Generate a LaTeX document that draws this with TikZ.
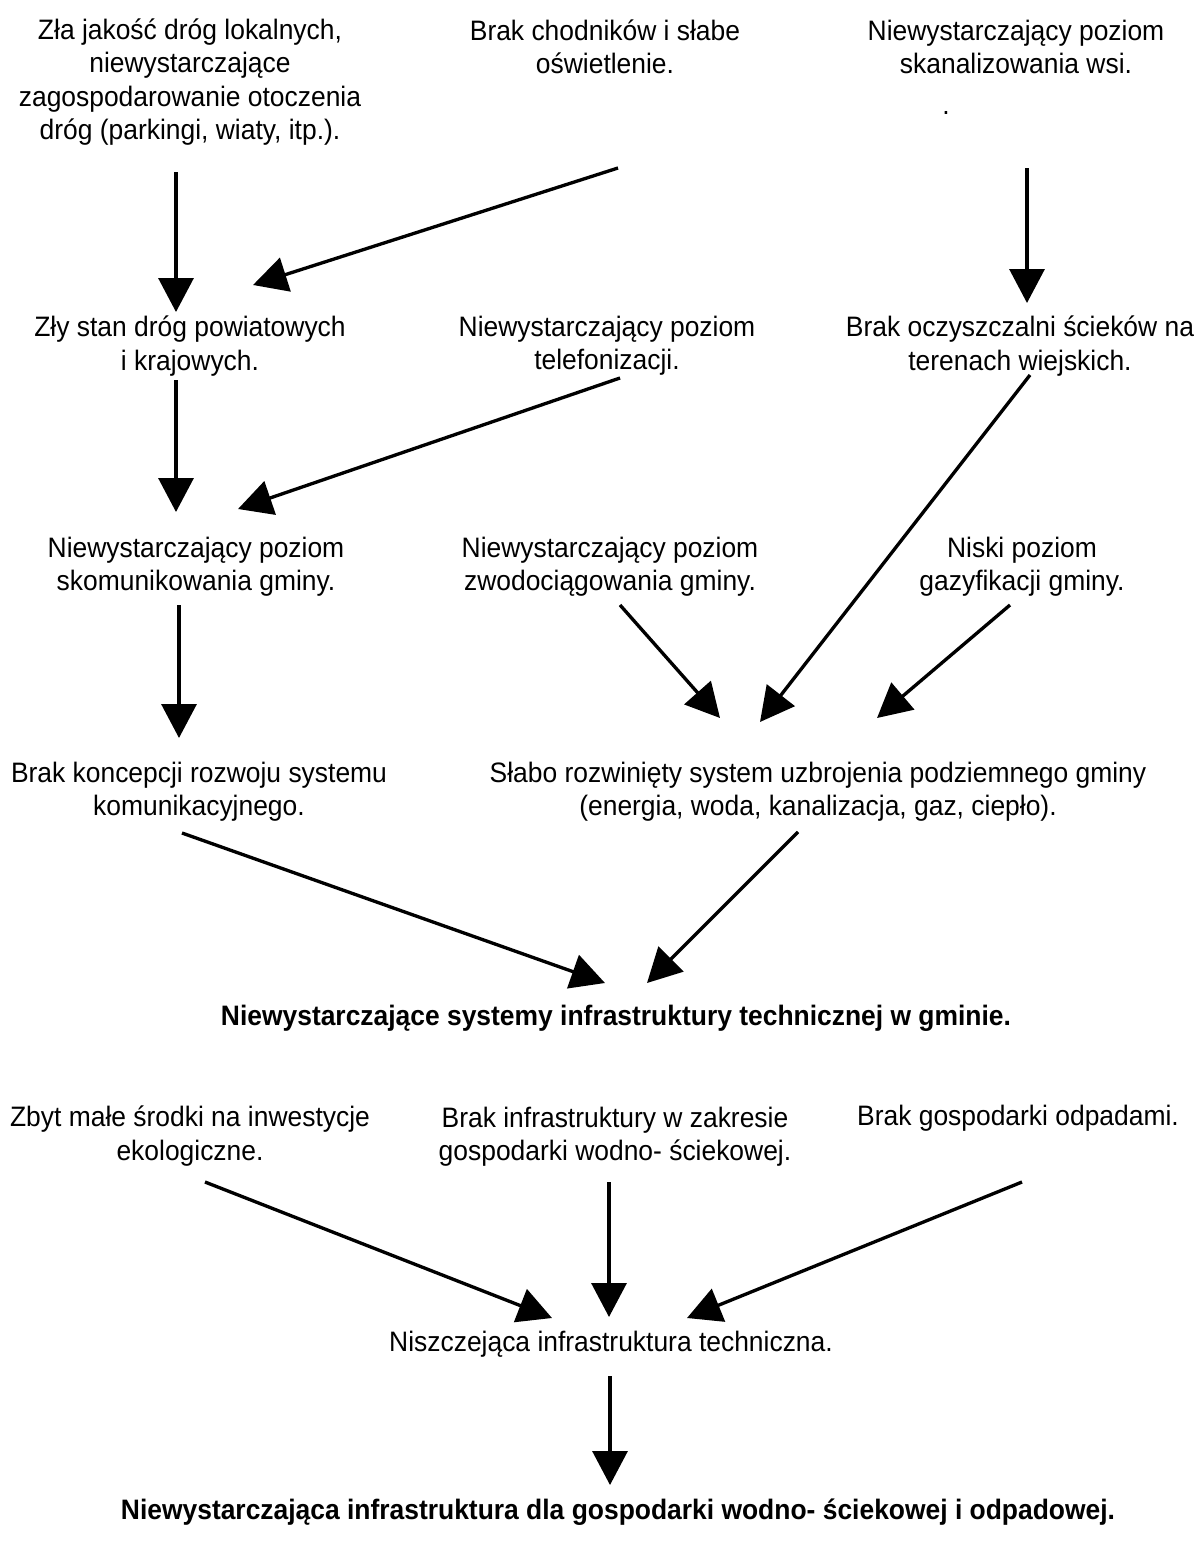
\documentclass[tikz,border=0pt]{standalone}
\usepackage{fontspec}
\setmainfont{Liberation Sans}[FakeStretch=0.94]
\usetikzlibrary{arrows.meta}

\begin{document}
\begin{tikzpicture}[x=0.02cm, y=-0.02cm,
 every node/.style={align=center, inner sep=0pt, font=\fontsize{16}{19}\selectfont},
 heavy/.style={font=\fontsize{16}{19}\selectfont\bfseries},
 arr/.style={-{Triangle[length=6.8mm,width=7mm]}, line width=1.9pt}]

 \useasboundingbox (0,0) rectangle (1197,1548);

 \node (zla) at (190,82) {Zła jakość dróg lokalnych,\\ niewystarczające\\ zagospodarowanie otoczenia\\ dróg (parkingi, wiaty, itp.).};

 \node (chod) at (605,47) {Brak chodników i słabe\\ oświetlenie.};

 \node (kan) at (1016,47) {Niewystarczający poziom\\ skanalizowania wsi.};

 \node (dot) at (946,113) {.};

 \node (zly) at (190,346) {Zły stan dróg powiatowych\\ i krajowych.};

 \node (tel) at (607,346) {Niewystarczający poziom\\ telefonizacji.};

 \node (ocz) at (1020,346) {Brak oczyszczalni ścieków na\\ terenach wiejskich.};

 \node (kom) at (196,567) {Niewystarczający poziom\\ skomunikowania gminy.};

 \node (wod) at (610,567) {Niewystarczający poziom\\ zwodociągowania gminy.};

 \node (gaz) at (1022,567) {Niski poziom\\ gazyfikacji gminy.};

 \node (konc) at (199,792) {Brak koncepcji rozwoju systemu\\ komunikacyjnego.};

 \node (uzb) at (818,792) {Słabo rozwinięty system uzbrojenia podziemnego gminy\\ (energia, woda, kanalizacja, gaz, ciepło).};

 \node[heavy] (sys) at (616,1018) {Niewystarczające systemy infrastruktury technicznej w gminie.};

 \node (eko) at (190,1136) {Zbyt małe środki na inwestycje\\ ekologiczne.};

 \node (ws) at (615,1137) {Brak infrastruktury w zakresie\\ gospodarki wodno- ściekowej.};

 \node (odp) at (1018,1118) {Brak gospodarki odpadami.};

 \node (nisz) at (611,1344) {Niszczejąca infrastruktura techniczna.};

 \node[heavy] (dla) at (618,1512) {Niewystarczająca infrastruktura dla gospodarki wodno- ściekowej i odpadowej.};

 \coordinate (s1) at (176,172);  \coordinate (e1) at (176,312);
 \coordinate (s2) at (618,168);  \coordinate (e2) at (253,285);
 \coordinate (s3) at (1027,168); \coordinate (e3) at (1027,303);
 \coordinate (s4) at (176,380);  \coordinate (e4) at (176,512);
 \coordinate (s5) at (620,378);  \coordinate (e5) at (238,509);
 \coordinate (s6) at (179,605);  \coordinate (e6) at (179,738);
 \coordinate (s7) at (620,605);  \coordinate (e7) at (720,718);
 \coordinate (s8) at (1030,375); \coordinate (e8) at (760,722);
 \coordinate (s9) at (1010,605); \coordinate (e9) at (877,718);
 \coordinate (s10) at (182,833); \coordinate (e10) at (605,983);
 \coordinate (s11) at (798,832); \coordinate (e11) at (647,983);
 \coordinate (s12) at (205,1182); \coordinate (e12) at (552,1318);
 \coordinate (s13) at (609,1182); \coordinate (e13) at (609,1317);
 \coordinate (s14) at (1022,1182); \coordinate (e14) at (687,1318);
 \coordinate (s15) at (610,1376); \coordinate (e15) at (610,1485);

 \draw[arr] (s1) -- (e1);
 \draw[arr] (s2) -- (e2);
 \draw[arr] (s3) -- (e3);
 \draw[arr] (s4) -- (e4);
 \draw[arr] (s5) -- (e5);
 \draw[arr] (s6) -- (e6);
 \draw[arr] (s7) -- (e7);
 \draw[arr] (s8) -- (e8);
 \draw[arr] (s9) -- (e9);
 \draw[arr] (s10) -- (e10);
 \draw[arr] (s11) -- (e11);
 \draw[arr] (s12) -- (e12);
 \draw[arr] (s13) -- (e13);
 \draw[arr] (s14) -- (e14);
 \draw[arr] (s15) -- (e15);

\end{tikzpicture}
\end{document}
